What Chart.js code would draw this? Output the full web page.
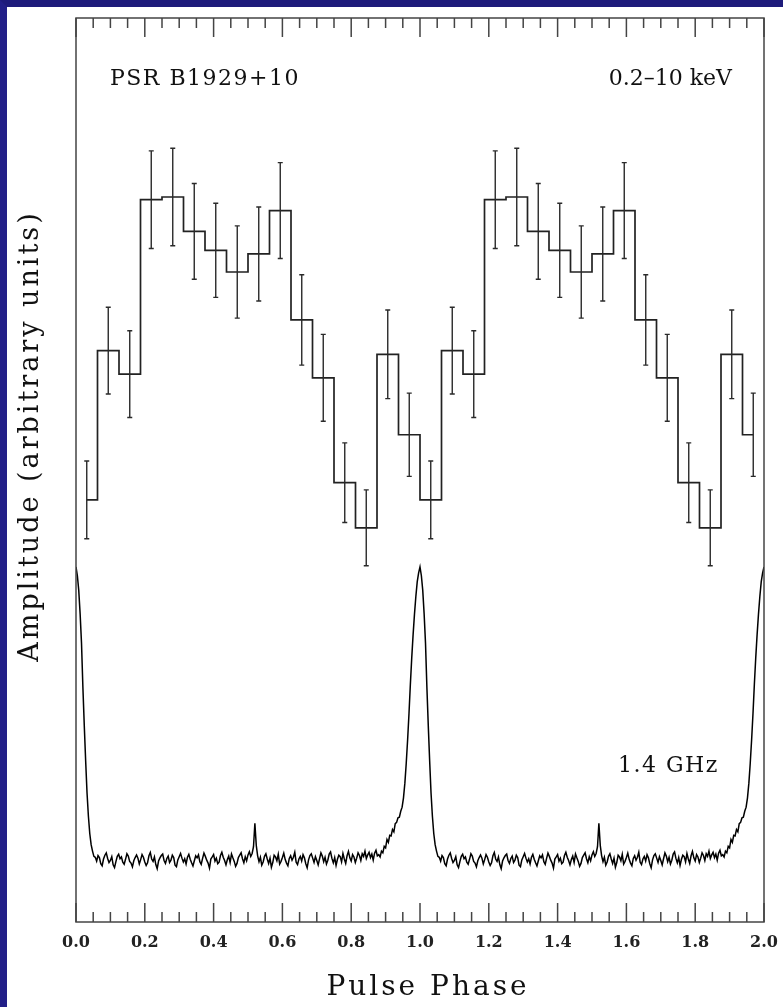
<!DOCTYPE html>
<html>
<head>
<meta charset="utf-8">
<title>PSR B1929+10</title>
<script src="https://cdn.jsdelivr.net/npm/chart.js@4.4.1/dist/chart.umd.min.js"></script>
<style>
  html, body { margin: 0; padding: 0; background: #fff; }
  #moldura {
    width: 783px; height: 1007px; box-sizing: border-box;
    border-top: 7px solid #1e1b7b; border-left: 7px solid #221f88;
    background: #fff;
  }
  #moldura canvas { display: block; }
</style>
</head>
<body>
<div id="moldura"><canvas id="perfil" width="776" height="1000"></canvas></div>
<script>
// perfil de raios X (0.2-10 keV): 16 bins por ciclo, contagem normalizada
const xrayRate = [46.7, 63.2, 60.6, 79.9, 80.2, 76.4, 74.3, 71.9, 73.9, 78.7, 66.6, 60.2, 48.6, 43.6, 62.8, 53.9];
const xrayErr  = [4.3, 4.8, 4.8, 5.4, 5.4, 5.3, 5.2, 5.1, 5.2, 5.3, 5.0, 4.8, 4.4, 4.2, 4.9, 4.6];

// perfil de radio 1.4 GHz: 250 amostras por ciclo (pico = 1000)
const radioFlux = [
  1000, 970, 920, 840, 740, 590, 460, 340, 230, 150,
  90, 52, 30, 12, 9, -4, 15, 8, -13, -20,
  3, 16, 24, 5, -9, -2, 11, -17, -26, -6,
  12, 19, 4, 10, -8, -15, 2, 21, 13, -5,
  -11, -24, -3, 8, 17, 6, -14, 1, 18, 9,
  -7, -19, -10, 14, 25, 3, -5, 10, -16, -30,
  -4, 7, 15, 20, -2, -12, 5, 13, -9, -1,
  16, 8, -18, -23, 0, 11, 22, 6, -7, 4,
  -14, 9, 19, 2, -10, -21, -3, 14, 7, 17,
  -6, -15, 5, 23, 12, -1, -11, -28, 3, 10,
  18, -4, 6, -13, -8, 15, 26, 9, -2, -17,
  1, 13, -9, 20, 7, -5, -22, -12, 8, 16,
  24, 4, -10, 11, -3, 17, 28, 12, 22, 45,
  125, 50, 14, -6, 9, -18, -7, 12, 21, 3,
  -12, 6, -25, -9, 16, 10, -3, 19, -14, -5,
  8, 23, 2, -11, -20, 5, 14, -1, 9, 26,
  -8, -16, 3, 12, -4, 18, 7, -13, -27, 0,
  15, 21, 6, -9, 11, -2, -17, 4, 24, 13,
  -6, 9, -14, -1, 20, 27, 5, -10, 8, -19,
  2, 16, 11, -7, 22, 3, -12, 14, 29, 7,
  -4, 18, 10, -9, 6, 24, 15, -2, 21, 12,
  30, 5, 17, 26, 8, 20, -1, 23, 33, 14,
  18, 10, 30, 24, 46, 41, 70, 60, 84, 82,
  104, 96, 124, 128, 144, 146, 166, 180, 212, 262,
  330, 410, 500, 600, 690, 770, 840, 900, 950, 980
];

const nCiclos = 2;
const xTicks = [0.0, 0.2, 0.4, 0.6, 0.8, 1.0, 1.2, 1.4, 1.6, 1.8, 2.0];

// monta os pontos dos dois ciclos
var xrayPontos = [];
var xrayBarras = [];
for (var c = 0; c < nCiclos; c++) {
  for (var i = 0; i < xrayRate.length; i++) {
    var fase = c + (i + 0.5) / xrayRate.length;
    xrayPontos.push({ x: fase, y: xrayRate[i] });
    xrayBarras.push({ x: fase, y: xrayRate[i], err: xrayErr[i] });
  }
}

var radioPontos = [];
for (var c = 0; c < nCiclos; c++) {
  for (var i = 0; i < radioFlux.length; i++) {
    radioPontos.push({ x: c + i / radioFlux.length, y: radioFlux[i] });
  }
}
radioPontos.push({ x: nCiclos, y: radioFlux[0] });

const fonteSerif = "'DejaVu Serif', 'Liberation Serif', serif";

// barras de erro dos bins de raios X
const barrasErro = {
  id: 'barrasErro',
  afterDatasetsDraw(chart) {
    const ctx = chart.ctx;
    const sx = chart.scales.x;
    const sy = chart.scales.yx;
    ctx.save();
    ctx.strokeStyle = '#2a2a2a';
    ctx.lineWidth = 1.4;
    xrayBarras.forEach(function (b) {
      var px = sx.getPixelForValue(b.x);
      var lo = sy.getPixelForValue(b.y - b.err);
      var hi = sy.getPixelForValue(b.y + b.err);
      ctx.beginPath();
      ctx.moveTo(px, lo); ctx.lineTo(px, hi);
      ctx.moveTo(px - 2.5, lo); ctx.lineTo(px + 2.5, lo);
      ctx.moveTo(px - 2.5, hi); ctx.lineTo(px + 2.5, hi);
      ctx.stroke();
    });
    ctx.restore();
  }
};

// moldura, marcas internas, rotulos e textos
const moldura = {
  id: 'moldura',
  afterDraw(chart) {
    const ctx = chart.ctx;
    const a = chart.chartArea;
    const sx = chart.scales.x;
    ctx.save();
    ctx.strokeStyle = '#444';
    ctx.lineWidth = 1.5;
    ctx.strokeRect(a.left, a.top, a.right - a.left, a.bottom - a.top);

    ctx.beginPath();
    for (var k = 0; k <= 40; k++) {
      var px = sx.getPixelForValue(k * 0.05);
      var len = (k % 4 === 0) ? 19 : 10;
      ctx.moveTo(px, a.bottom); ctx.lineTo(px, a.bottom - len);
      ctx.moveTo(px, a.top); ctx.lineTo(px, a.top + len);
    }
    ctx.stroke();

    // rotulos do eixo x
    ctx.fillStyle = '#222';
    ctx.font = 'bold 16px ' + fonteSerif;
    ctx.textAlign = 'center';
    ctx.textBaseline = 'middle';
    sx.ticks.forEach(function (t) {
      ctx.fillText(Number(t.value).toFixed(1), sx.getPixelForValue(t.value), a.bottom + 21);
    });

    ctx.fillStyle = '#111';
    ctx.textBaseline = 'alphabetic';
    ctx.font = '22px ' + fonteSerif;
    ctx.letterSpacing = '1.5px';
    ctx.textAlign = 'left';
    ctx.fillText('PSR B1929+10', a.left + 34, a.top + 67);
    ctx.fillText('1.4 GHz', a.left + 542, a.bottom - 150);
    ctx.letterSpacing = '0px';
    ctx.textAlign = 'right';
    ctx.fillText('0.2\u201310 keV', a.right - 32, a.top + 67);

    ctx.font = '28px ' + fonteSerif;
    ctx.letterSpacing = '3px';
    ctx.textAlign = 'center';
    ctx.fillText('Pulse Phase', (a.left + a.right) / 2 + 8, a.bottom + 73);

    ctx.font = '27px ' + fonteSerif;
    ctx.translate(31, (a.top + a.bottom) / 2 - 34);
    ctx.rotate(-Math.PI / 2);
    ctx.fillText('Amplitude (arbitrary units)', 0, 0);
    ctx.restore();
  }
};

const ctx = document.getElementById('perfil');

new Chart(ctx, {
  type: 'line',
  data: {
    datasets: [
      {
        label: '0.2-10 keV',
        data: xrayPontos,
        yAxisID: 'yx',
        stepped: 'middle',
        borderColor: '#222',
        borderWidth: 1.7,
        pointRadius: 0,
        fill: false
      },
      {
        label: '1.4 GHz',
        data: radioPontos,
        yAxisID: 'yr',
        borderColor: '#000',
        borderWidth: 1.5,
        pointRadius: 0,
        tension: 0,
        fill: false
      }
    ]
  },
  options: {
    responsive: false,
    animation: false,
    layout: { padding: { left: 69, right: 19, top: 11, bottom: 0 } },
    plugins: {
      legend: { display: false },
      tooltip: { enabled: false }
    },
    scales: {
      x: {
        type: 'linear',
        position: 'bottom',
        min: 0,
        max: 2,
        afterFit: function (s) { s.height = 85; },
        afterBuildTicks: function (s) {
          s.ticks = xTicks.map(function (v) { return { value: v }; });
        },
        ticks: { display: false },
        grid: { display: false, drawTicks: false },
        border: { display: false }
      },
      yx: {
        type: 'linear',
        display: false,
        min: 0,
        max: 100
      },
      yr: {
        type: 'linear',
        display: false,
        min: -212,
        max: 2874
      }
    }
  },
  plugins: [barrasErro, moldura]
});
</script>
</body>
</html>
